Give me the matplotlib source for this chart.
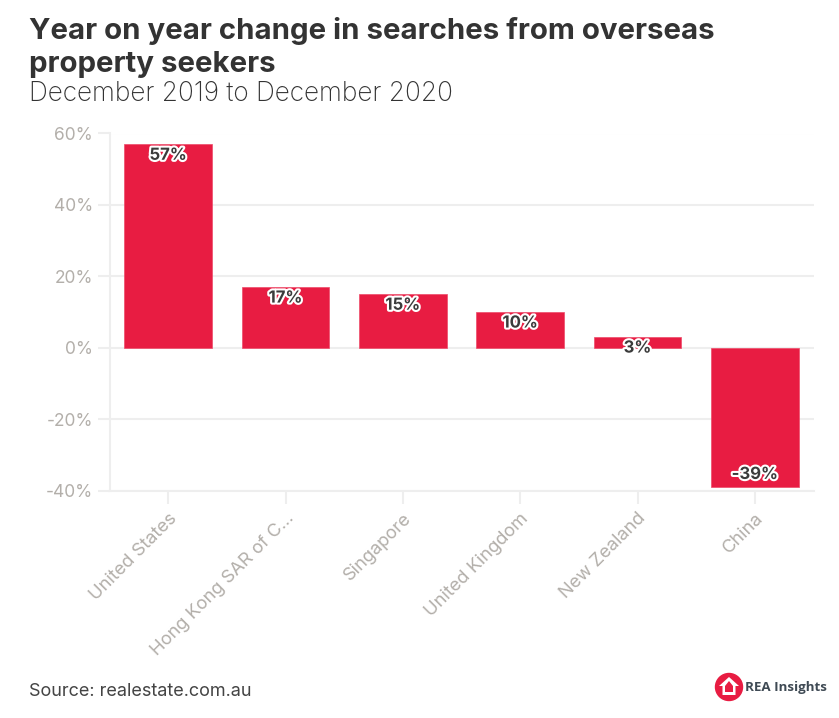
import matplotlib
matplotlib.use("Agg")
import matplotlib.pyplot as plt
import matplotlib.patheffects as pe
from matplotlib.patches import Circle, Polygon

categories = ["United States", "Hong Kong SAR of C...", "Singapore", "United Kingdom", "New Zealand", "China"]
values = [57, 17, 15, 10, 3, -39]
labels = ["57%", "17%", "15%", "10%", "3%", "-39%"]
yticks = [-40, -20, 0, 20, 40, 60]
ytick_labels = ["-40%", "-20%", "0%", "20%", "40%", "60%"]
title_lines = ["Year on year change in searches from overseas", "property seekers"]
subtitle = "December 2019 to December 2020"
source = "Source: realestate.com.au"
logo_text = "REA Insights"

W, H = 839, 718
plt.rcParams['font.family'] = ['Inter', 'DejaVu Sans']
fig = plt.figure(figsize=(W/100, H/100), dpi=100, facecolor='white')
ax = fig.add_axes([109.5/W, 1-490.5/H, 704/W, 357/H])
ax.set_xlim(-0.5, 5.5)
ax.set_ylim(-40, 60)
ax.set_axisbelow(True)
ax.yaxis.grid(True, color='#eeeeee', lw=1.5)
for s in ['top', 'right']:
    ax.spines[s].set_visible(False)
for s in ['left', 'bottom']:
    ax.spines[s].set_color('#eeeeee')
    ax.spines[s].set_linewidth(1.5)

ax.bar(range(6), values, width=0.745, color='#e81c42', edgecolor='#ee4a68', linewidth=0.5, zorder=3)
ax.set_yticks(yticks, ytick_labels, fontsize=12.5, color='#b3afaa')
ax.set_xticks(range(6), categories, fontsize=13.2, color='#b3afaa', rotation=45, ha='right',
              rotation_mode='anchor')
ax.tick_params(axis='y', length=9, color='#eeeeee', width=1.5, pad=3)
ax.tick_params(axis='x', length=9, color='#eeeeee', width=1.5, pad=5)

for i, (v, l) in enumerate(zip(values, labels)):
    y = v - 3.1 if v > 0 else v + 3.5
    ax.text(i, y, l, ha='center', va='center', fontsize=12, fontweight='bold', color='#3b3b3b', zorder=5,
            path_effects=[pe.withStroke(linewidth=3, foreground='white')])

fig.text(29/W, 1-31/H, title_lines[0], fontsize=21.2, fontweight='bold', color='#333333', va='center')
fig.text(29/W, 1-64/H, title_lines[1], fontsize=21.2, fontweight='bold', color='#333333', va='center')
fig.text(29/W, 1-94/H, subtitle, fontsize=18.9, color='#333333', va='center', fontweight='light')
fig.text(29/W, 1-692/H, source, fontsize=13, color='#444444', va='center')

# logo
la = fig.add_axes([0, 0, 1, 1], facecolor='none')
la.set_xlim(0, W); la.set_ylim(H, 0); la.axis('off')
la.add_patch(Circle((729, 687), 13.5, color='#e81c42'))
la.add_patch(Polygon([(729,677),(739,686),(735.5,686),(735.5,695),(722.5,695),(722.5,686),(719,686)],
                     closed=True, facecolor='white', edgecolor='none'))
la.add_patch(Polygon([(729,681),(733,686),(733,692),(725,692),(725,686)], closed=True, facecolor='#e81c42', edgecolor='none'))
la.text(745, 688, logo_text, fontsize=9.6, fontweight='bold', color='#3f4a54', va='center', family=['Open Sans', 'DejaVu Sans'])

fig.savefig("out.png", dpi=100)
